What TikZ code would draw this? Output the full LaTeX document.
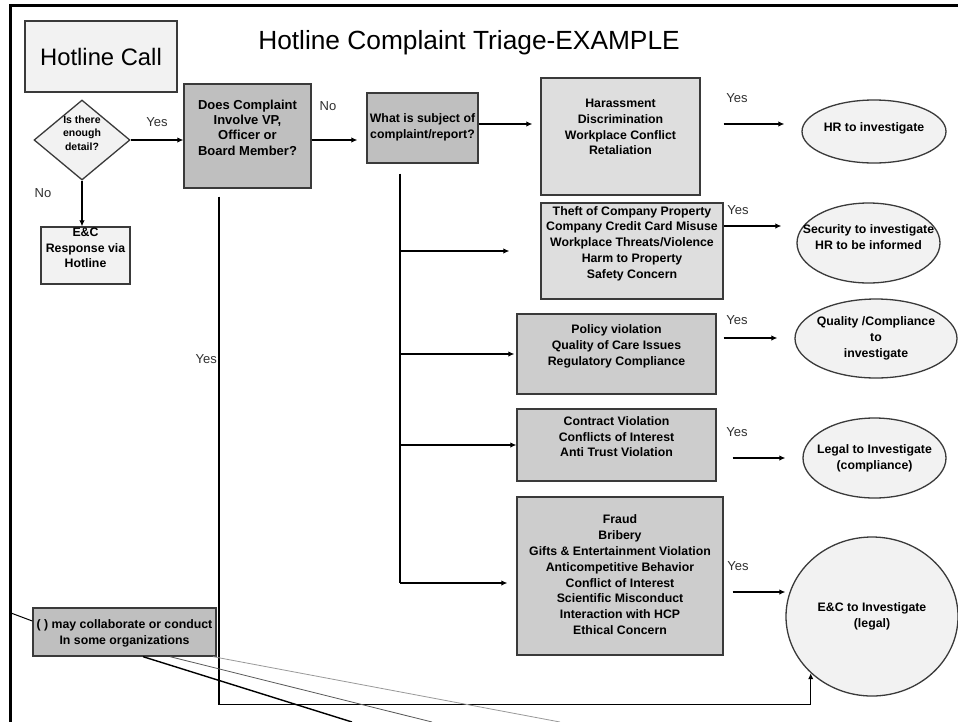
\documentclass[tikz,border=0pt]{standalone}
\usepackage{fontspec}
\setmainfont{Liberation Sans}
\usetikzlibrary{arrows.meta,shapes.geometric}
\definecolor{lite}{HTML}{F2F2F2}
\definecolor{mid}{HTML}{DEDEDE}
\definecolor{dark}{HTML}{CDCDCD}
\definecolor{darker}{HTML}{BFBFBF}
\definecolor{edge}{HTML}{3A3A3A}
\definecolor{lblc}{HTML}{303030}
\newcommand{\lift}[2]{\raisebox{#1}[\height][\depth]{\begin{tabular}{@{}c@{}}#2\end{tabular}}}
\tikzset{
  box/.style={draw=edge, line width=1.3pt, rectangle, inner sep=0pt,
    font=\fontsize{12.3}{15.8}\selectfont\bfseries},
  ell/.style={draw=edge, line width=1.3pt, ellipse, inner sep=0pt, fill=lite,
    font=\fontsize{12.3}{15.8}\selectfont\bfseries},
  arr/.style={draw=black, line width=1.2pt, -{Latex[length=6pt,width=5.5pt]}},
  lbl/.style={text=lblc, inner sep=0pt, font=\fontsize{13}{15}\selectfont},
}
\begin{document}
\begin{tikzpicture}[x=1pt,y=-1pt]
\useasboundingbox (0,0) rectangle (958,721);
\fill[white] (0,0) rectangle (958,721);
% frame
\draw[line width=2.5pt] (10.5,730) -- (10.5,5.5) -- (965,5.5);

% title and start
\node[box, fill=lite, minimum width=152, minimum height=71,
  font=\fontsize{23.8}{28}\selectfont] (call) at (101,56.5) {Hotline Call};
\node[anchor=base, inner sep=0pt, font=\fontsize{26.3}{30}\selectfont] (title) at (469,49) {Hotline Complaint Triage-EXAMPLE};

% decision
\node[diamond, draw=edge, line width=1.3pt, fill=lite, minimum width=96, minimum height=80,
  inner sep=0pt, aspect=1.2, font=\fontsize{10.5}{13.5}\selectfont\bfseries] (detail) at (82,140)
  {\lift{6pt}{Is there\\enough\\detail?}};
\node[box, fill=lite, minimum width=89, minimum height=57] (resp) at (85.5,255.5)
  {\lift{6.5pt}{E\&C\\Response via\\Hotline}};
\node[box, fill=darker, minimum width=127, minimum height=104,
  font=\fontsize{13}{15.3}\selectfont\bfseries] (involve) at (247.5,136)
  {\lift{7pt}{Does Complaint\\Involve VP,\\Officer or\\Board Member?}};
\node[box, fill=darker, minimum width=111, minimum height=70] (subject) at (422.5,128)
  {\lift{0.5pt}{What is subject of\\complaint/report?}};

% categories
\node[box, fill=mid, minimum width=159, minimum height=117] (harass) at (620.5,136.5)
  {\lift{8.5pt}{Harassment\\Discrimination\\Workplace Conflict\\Retaliation}};
\node[box, fill=mid, minimum width=182, minimum height=96] (theft) at (632,251)
  {\lift{7.5pt}{Theft of Company Property\\Company Credit Card Misuse\\Workplace Threats/Violence\\Harm to Property\\Safety Concern}};
\node[box, fill=dark, minimum width=199, minimum height=80] (quality) at (616.5,354)
  {\lift{7.5pt}{Policy violation\\Quality of Care Issues\\Regulatory Compliance}};
\node[box, fill=dark, minimum width=199, minimum height=72] (contract) at (616.5,445)
  {\lift{7pt}{Contract Violation\\Conflicts of Interest\\Anti Trust Violation}};
\node[box, fill=dark, minimum width=206, minimum height=158] (fraud) at (620,576)
  {\lift{0pt}{Fraud\\Bribery\\Gifts \& Entertainment Violation\\Anticompetitive Behavior\\Conflict of Interest\\Scientific Misconduct\\Interaction with HCP\\Ethical Concern}};

% outcomes
\node[ell, minimum width=144, minimum height=63] (hr) at (874,131.5)
  {\makebox[0pt]{\lift{3.5pt}{HR to investigate}}};
\node[ell, minimum width=143, minimum height=80] (sec) at (868.5,243)
  {\makebox[0pt]{\lift{4.5pt}{Security to investigate\\HR to be informed}}};
\node[ell, minimum width=162, minimum height=79] (qual) at (876,338.5)
  {\makebox[0pt]{\lift{0pt}{Quality /Compliance\\to\\investigate}}};
\node[ell, minimum width=143, minimum height=80] (legal) at (874.5,458)
  {\makebox[0pt]{\lift{0pt}{Legal to Investigate\\(compliance)}}};
\node[ell, minimum width=172, minimum height=159] (ec) at (872,616.5)
  {\makebox[0pt]{\lift{0pt}{E\&C to Investigate\\(legal)}}};

% callout
\node[box, fill=darker, minimum width=183, minimum height=48] (note) at (124.5,632)
  {\lift{-1pt}{( ) may collaborate or conduct\\In some organizations}};

% connectors
\draw[arr] (detail.east) -- (detail.east -| involve.west);
\draw[arr] (detail.south) -- (detail.south |- resp.north);
\draw[arr, shorten >=9pt] ([yshift=-4pt]involve.east) -- ([yshift=-4pt]involve.east -| subject.west);
\draw[arr, shorten >=8pt] ([yshift=4pt]subject.east) -- ([yshift=4pt]subject.east -| harass.west);

\coordinate (ttop) at ([xshift=-22.5pt,yshift=-10pt]subject.south);
\coordinate (fin) at ([yshift=-7pt]fraud.west);
\draw[line width=1.2pt] (ttop) -- (ttop |- fin);
\draw[arr, shorten >=31pt] (ttop |- theft.west) -- (theft.west);
\draw[arr, shorten >=2pt] (ttop |- quality.west) -- (quality.west);
\draw[arr] (ttop |- contract.west) -- (contract.west);
\draw[arr, shorten >=9pt] (ttop |- fin) -- (fin);

\draw[arr, shorten <=23pt, shorten >=17pt] ([yshift=12.5pt]harass.east) -- ([yshift=12.5pt]harass.east -| hr.west);
\draw[arr, shorten >=15pt] ([yshift=25pt]theft.east) -- ([yshift=25pt]theft.east -| sec.west);
\draw[arr, shorten <=7pt, shorten >=17pt] ([yshift=16pt]quality.east) -- ([yshift=16pt]quality.east -| qual.west);
\draw[arr, shorten <=16pt, shorten >=17pt] ([yshift=-13pt]contract.east) -- ([yshift=-13pt]contract.east -| legal.west);
\draw[arr, shorten <=9pt] ([yshift=-16pt]fraud.east) -- ([yshift=-16pt]fraud.east -| ec.west);

\draw[arr, shorten <=8pt] ([xshift=-28.5pt]involve.south) |- ([yshift=-31.3pt]ec.south west) -- (ec.south west);

% callout lines
\coordinate (fl) at (11,613);
\coordinate (e1) at (352,722);
\coordinate (e2) at (432,722);
\coordinate (e3) at (560,722);
\draw[line width=1pt] (fl) -- ([yshift=11pt]note.west);
\draw[line width=1.4pt] ([xshift=18.5pt]note.south) -- (e1);
\draw[line width=0.8pt, black!65] ([xshift=45.5pt]note.south) -- (e2);
\draw[line width=0.8pt, black!40] ([xshift=88.5pt]note.south) -- (e3);

% labels
\node[lbl] (ly1) at (157,122) {Yes};
\node[lbl] (ln1) at (43,193) {No};
\node[lbl] (ln2) at (328,106) {No};
\node[lbl, anchor=east] (ly2) at (217,359) {Yes};
\node[lbl] (ly3) at (737,98) {Yes};
\node[lbl] (ly4) at (738,210) {Yes};
\node[lbl] (ly5) at (737,320) {Yes};
\node[lbl] (ly6) at (737,432) {Yes};
\node[lbl] (ly7) at (738,566) {Yes};
\end{tikzpicture}
\end{document}
